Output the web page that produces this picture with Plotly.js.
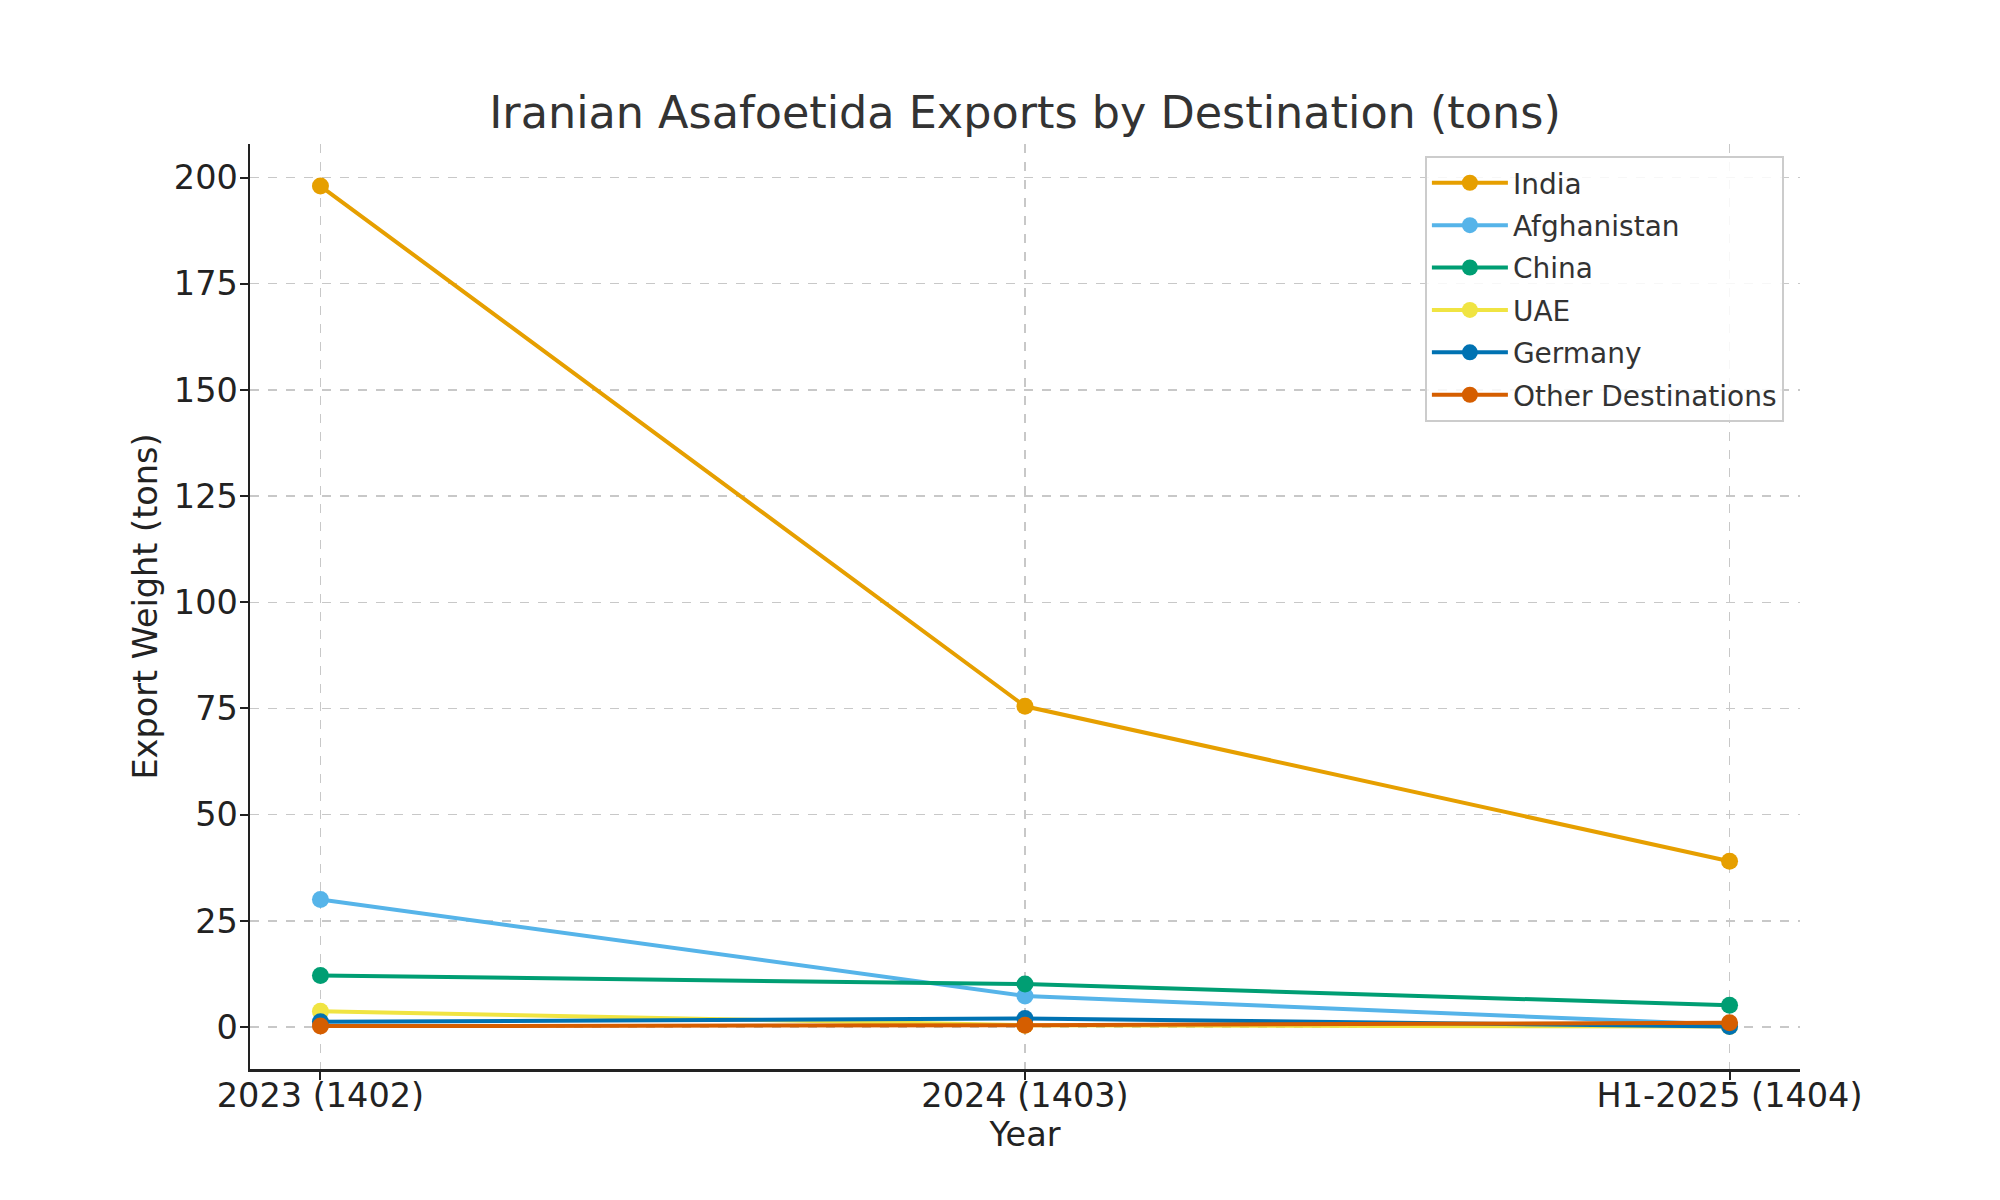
<!DOCTYPE html>
<html>
<head>
<meta charset="utf-8">
<script src="https://cdn.plot.ly/plotly-3.0.1.min.js"></script>
<style>html,body{margin:0;padding:0;background:#fff;}#chart{width:2000px;height:1200px;}</style>
</head>
<body>
<div id="chart"></div>
<script>
const years = ["2023 (1402)", "2024 (1403)", "H1-2025 (1404)"];
const seriesNames = ["India", "Afghanistan", "China", "UAE", "Germany", "Other Destinations"];
const india = [198, 75.5, 39];
const afghanistan = [30, 7.3, 0.5];
const china = [12.1, 10.1, 5.1];
const uae = [3.7, 0.4, 0.1];
const germany = [1.2, 2.0, 0.1];
const other = [0.2, 0.4, 1.0];
const colors = ["#E69F00", "#56B4E9", "#009E73", "#F0E442", "#0072B2", "#D55E00"];
const allSeries = [india, afghanistan, china, uae, germany, other];

const traces = allSeries.map((vals, i) => ({
  x: years,
  y: vals,
  name: seriesNames[i],
  legendgroup: "g" + i,
  type: "scatter",
  mode: "lines+markers",
  line: {color: colors[i], width: 4},
  marker: {color: colors[i], size: 17}
}));

const font = "DejaVu Sans, sans-serif";
const layout = {
  width: 2000,
  height: 1200,
  paper_bgcolor: "#fff",
  plot_bgcolor: "#fff",
  margin: {l: 250, r: 200, t: 144, b: 131},
  font: {family: font, color: "#222"},
  title: {
    text: "Iranian Asafoetida Exports by Destination (tons)",
    font: {family: font, size: 44.5, color: "#333"},
    x: 0.5, xref: "paper", xanchor: "center",
    y: 1 - 112/1200, yref: "container", yanchor: "middle"
  },
  xaxis: {
    type: "category",
    range: [-0.1, 2.1],
    title: {text: "Year", font: {family: font, size: 33.5, color: "#222"}, standoff: 8},
    tickfont: {family: font, size: 33.5, color: "#222"},
    ticklabelstandoff: -13,
    showline: true, linecolor: "#222", linewidth: 2.5, mirror: false,
    ticks: "outside", ticklen: 8, tickwidth: 2, tickcolor: "#222",
    showgrid: true, gridcolor: "#c8c8c8", gridwidth: 1.5, griddash: "dash",
    zeroline: false
  },
  yaxis: {
    range: [-9.9, 207.9],
    tickvals: [0, 25, 50, 75, 100, 125, 150, 175, 200],
    title: {text: "Export Weight (tons)", font: {family: font, size: 33.5, color: "#222"}, standoff: 6},
    tickfont: {family: font, size: 33.5, color: "#222"},
    ticklabelstandoff: -5,
    showline: true, linecolor: "#222", linewidth: 2.5, mirror: false,
    ticks: "outside", ticklen: 8, tickwidth: 2, tickcolor: "#222",
    showgrid: true, gridcolor: "#c8c8c8", gridwidth: 1.5, griddash: "dash",
    zeroline: false
  },
  legend: {
    x: 0.758, y: 0.987, xanchor: "left", yanchor: "top",
    bgcolor: "rgba(255,255,255,0.85)",
    bordercolor: "#cccccc", borderwidth: 2,
    font: {family: font, size: 28, color: "#333"},
    tracegroupgap: 3,
    itemwidth: 76
  },
  showlegend: true
};

Plotly.newPlot("chart", traces, layout, {displayModeBar: false, staticPlot: true});
</script>
</body>
</html>
